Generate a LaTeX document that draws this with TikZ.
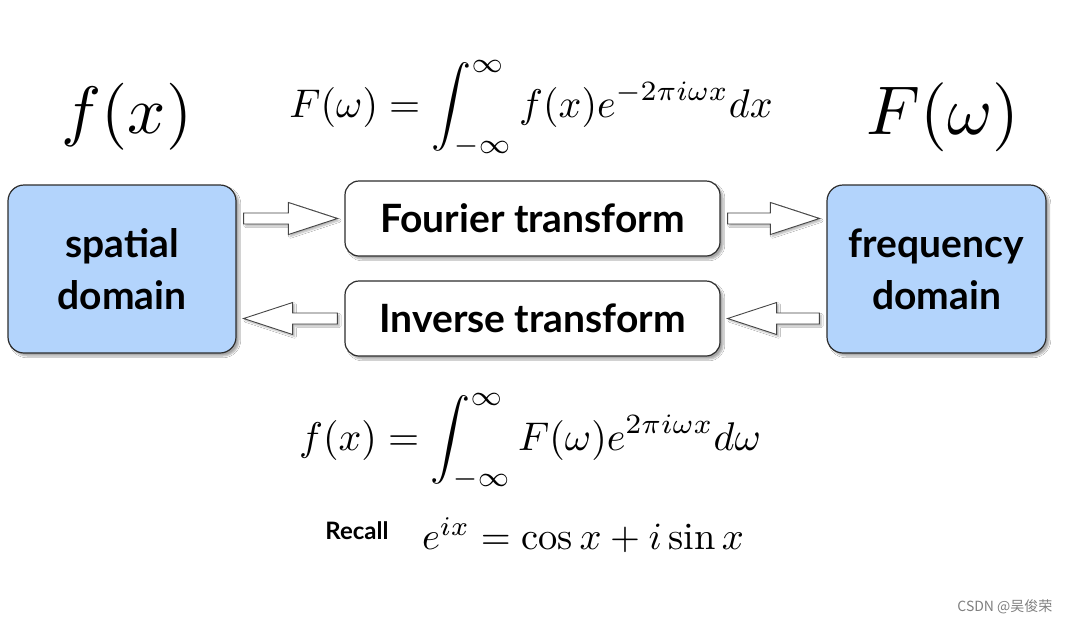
\documentclass[tikz,border=0pt]{standalone}
\usepackage{fontspec}
\setsansfont{Lato}
\newfontfamily\cjkfont{Noto Sans CJK SC}
\usepackage{amsmath}
\usetikzlibrary{calc,shadows.blur}

\definecolor{domainblue}{RGB}{179,212,252}
\definecolor{edgegray}{RGB}{45,45,45}
\definecolor{arrowgray}{RGB}{70,70,70}

\tikzset{
  softshadow/.style={blur shadow={shadow xshift=3pt,shadow yshift=-3pt,shadow blur steps=6,shadow opacity=35}},
  domainbox/.style={draw=edgegray,line width=1.2pt,fill=domainblue,rounded corners=16pt,
    minimum width=228pt,minimum height=168pt,align=center,softshadow,
    font=\fontsize{39}{52}\selectfont\sffamily\bfseries},
  transbox/.style={draw=edgegray,line width=1.2pt,fill=white,rounded corners=14pt,
    minimum width=375pt,minimum height=75pt,softshadow,
    font=\fontsize{39}{47}\selectfont\sffamily\bfseries},
  fatarrow/.style={draw=arrowgray,fill=white,line width=0.9pt,
    blur shadow={shadow xshift=2pt,shadow yshift=-2pt,shadow blur steps=5,shadow opacity=30},
    to path={let \p1=(\tikztostart), \p2=(\tikztotarget), \n1={ifthenelse(\x2>\x1,1,-1)} in
      ({\x1+\n1*7pt},{\y1-5.5pt}) -- ({\x2-\n1*56pt},{\y1-5.5pt}) -- ({\x2-\n1*56pt},{\y1-16pt})
      -- ({\x2-\n1*7pt},\y1) -- ({\x2-\n1*56pt},{\y1+16pt}) -- ({\x2-\n1*56pt},{\y1+5.5pt})
      -- ({\x1+\n1*7pt},{\y1+5.5pt}) -- cycle}},
}

\begin{document}
\begin{tikzpicture}[x=1pt,y=-1pt]
 \useasboundingbox[fill=white] (0,0) rectangle (1070,625);

 % the two domains and the two transforms
 \node[domainbox] (spatial) at (122,269) {spatial\\domain};
 \node[domainbox,minimum width=219pt] (frequency) at (936.5,269) {frequency\\domain};
 \node[transbox] (fourier) at (532.5,218.5) {Fourier transform};
 \node[transbox] (inverse) at (532.5,318.5) {Inverse transform};

 % block arrows
 \draw[fatarrow] (spatial.east |- fourier.west) to (fourier.west);
 \draw[fatarrow] (fourier.east) to (frequency.west |- fourier.east);
 \draw[fatarrow] (frequency.west |- inverse.east) to (inverse.east);
 \draw[fatarrow] (inverse.west) to (spatial.east |- inverse.west);

 % formulas
 \node[scale=6.7] (fx) at (127,117) {$f(x)$};
 \node[scale=6.9] (Fw) at (943,117) {$F(\omega)$};
 \node[scale=4.0] (fwd) at (531,109) {$\displaystyle F(\omega)=\int_{-\infty}^{\infty} f(x)e^{-2\pi i\omega x}dx$};
 \node[scale=4.0] (inv) at (530,442) {$\displaystyle f(x)=\int_{-\infty}^{\infty} F(\omega)e^{2\pi i\omega x}d\omega$};
 \node (recall) at (357,531) {\fontsize{24}{28}\selectfont\sffamily\bfseries Recall};
 \node[scale=3.85] (euler) at (583,535) {$e^{ix}=\cos x+i\sin x$};

 \node[anchor=east,text=gray] (mark) at (1056,607) {\fontsize{14}{16}\selectfont\cjkfont CSDN @吴俊荣};
\end{tikzpicture}
\end{document}
